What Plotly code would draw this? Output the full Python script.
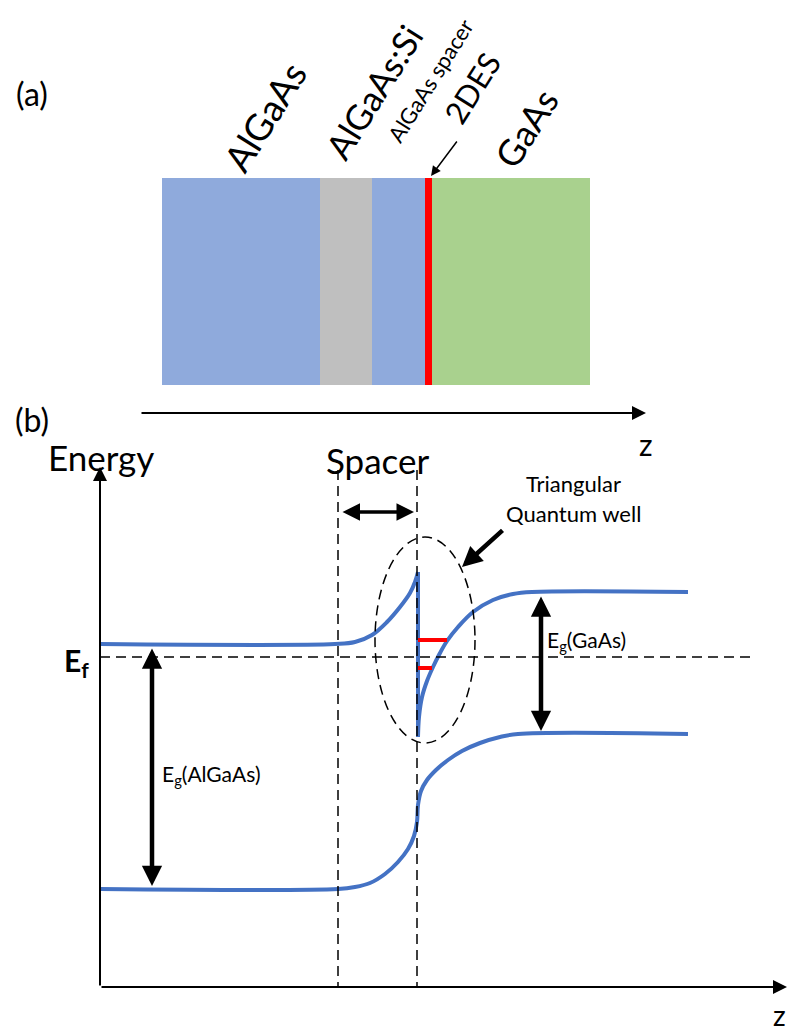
import plotly.graph_objects as go

# Page-sized canvas: x to the right, y downward (pixels)
W, H = 791, 1032
FONT = "Lato"

# ---------------- (a) layer stack ----------------
layer_left = [162, 320, 372, 425, 432]
layer_right = [320, 372, 425, 432, 590]
layer_colors = ["#8FAADC", "#BFBFBF", "#8FAADC", "#FF0000", "#A9D18E"]
stack_top, stack_bottom = 178, 385

# slanted layer labels (centre points and font sizes)
label_text = ["AlGaAs", "AlGaAs:Si", "AlGaAs spacer", "2DES", "GaAs"]
label_x = [264, 373, 430, 472, 526]
label_y = [116, 92, 80, 88, 128]
label_size = [37, 35, 22, 31, 36]
label_angle = -58

# ---------------- (b) band diagram ----------------
cb_left_x = [100, 335, 355, 372, 387, 400, 410, 415, 418]
cb_left_y = [644, 644, 642, 635, 622, 607, 593, 582, 572]
cb_drop_x = [418, 418]
cb_drop_y = [572, 737]
cb_right_x = [418, 419, 422, 427, 433, 440, 447, 458, 473, 493, 513, 532, 688]
cb_right_y = [737, 717, 697, 681, 667, 653, 641, 627, 612, 600, 594, 592, 592]

vb_x = [100, 338, 355, 370, 385, 398, 408, 414, 417, 418, 421, 427, 436, 448, 462, 480, 500, 518, 688]
vb_y = [889, 889, 887, 883, 874, 862, 849, 836, 822, 805, 791, 780, 770, 760, 751, 743, 737, 734, 734]

# confined sub-band levels in the triangular well
level_x0 = [418, 418]
level_x1 = [447, 432]
level_y = [640, 668]

fermi_y = 657
spacer_edges = [338, 417]
axis_origin = (100, 987)

fig = go.Figure()

# layer rectangles
for x0, x1, c in zip(layer_left, layer_right, layer_colors):
    fig.add_shape(type="rect", x0=x0, x1=x1, y0=stack_top, y1=stack_bottom,
                  fillcolor=c, line=dict(width=0), layer="below")

# band edges
band_style = dict(color="#4472C4", width=4)
smooth = dict(shape="spline", smoothing=1.0)
fig.add_trace(go.Scatter(x=cb_left_x, y=cb_left_y, mode="lines",
                         line=dict(**smooth, **band_style)))
fig.add_trace(go.Scatter(x=cb_drop_x, y=cb_drop_y, mode="lines", line=band_style))
fig.add_trace(go.Scatter(x=cb_right_x, y=cb_right_y, mode="lines",
                         line=dict(**smooth, **band_style)))
fig.add_trace(go.Scatter(x=vb_x, y=vb_y, mode="lines",
                         line=dict(**smooth, **band_style)))

# sub-band levels
for a, b, y in zip(level_x0, level_x1, level_y):
    fig.add_trace(go.Scatter(x=[a, b], y=[y, y], mode="lines",
                             line=dict(color="#FF0000", width=4)))

# dashed guides
dash = dict(color="black", width=1.5, dash="10px,6px")
fig.add_shape(type="line", x0=100, x1=750, y0=fermi_y, y1=fermi_y, line=dash)
for xe in spacer_edges:
    fig.add_shape(type="line", x0=xe, x1=xe, y0=470, y1=987, line=dash)
fig.add_shape(type="circle", x0=375, x1=475, y0=537, y1=743, line=dash)


def arrow(x0, y0, x1, y1, width=2, head=2, size=1.0, both=False):
    fig.add_annotation(x=x1, y=y1, ax=x0, ay=y0, xref="x", yref="y",
                       axref="x", ayref="y", showarrow=True, text="",
                       arrowhead=head, arrowsize=size, arrowwidth=width,
                       arrowcolor="black", startarrowhead=head,
                       startarrowsize=size,
                       arrowside="end+start" if both else "end")


arrow(140, 413, 646, 413, width=2, size=1.4)                        # z axis (a)
arrow(axis_origin[0], axis_origin[1], 100, 467, width=2, size=1.4)  # energy axis
arrow(axis_origin[0], axis_origin[1], 787, 987, width=2, size=1.4)  # z axis (b)
arrow(341, 512, 414, 512, width=3.5, size=1.0, both=True)           # spacer width
arrow(152, 647, 152, 886, width=4.5, size=0.9, both=True)           # Eg(AlGaAs)
arrow(541, 595, 541, 731, width=4.5, size=0.9, both=True)           # Eg(GaAs)
arrow(504, 529, 462, 567, width=4.5, size=0.9)                      # to the well
arrow(458, 140, 431, 176, width=1.5, size=1.3)                      # to 2DES


def text(s, x, y, size, xanchor="center", angle=0):
    fig.add_annotation(x=x, y=y, xref="x", yref="y", text=s, showarrow=False,
                       xanchor=xanchor, yanchor="middle", textangle=angle,
                       font=dict(family=FONT, size=size, color="black"))


for s, x, y, sz in zip(label_text, label_x, label_y, label_size):
    text(s, x, y, sz, angle=label_angle)

text("(a)", 32, 93, 32)
text("(b)", 32, 419, 32)
text("z", 646, 444, 30)
text("z", 779, 1015, 28)
text("Energy", 101, 457, 35)
text("Spacer", 377, 460, 35)
text("<b>E<sub>f</sub></b>", 76, 662, 30)
text("Triangular", 573, 483, 22)
text("Quantum well", 573, 513, 22)
text("E<sub>g</sub>(AlGaAs)", 160, 775, 21, xanchor="left")
text("E<sub>g</sub>(GaAs)", 545, 641, 21, xanchor="left")

fig.update_layout(
    width=W, height=H, margin=dict(l=0, r=0, t=0, b=0),
    paper_bgcolor="white", plot_bgcolor="white", showlegend=False,
    xaxis=dict(range=[0, W], visible=False, fixedrange=True),
    yaxis=dict(range=[H, 0], visible=False, fixedrange=True),
)

fig.write_html("out.html")
